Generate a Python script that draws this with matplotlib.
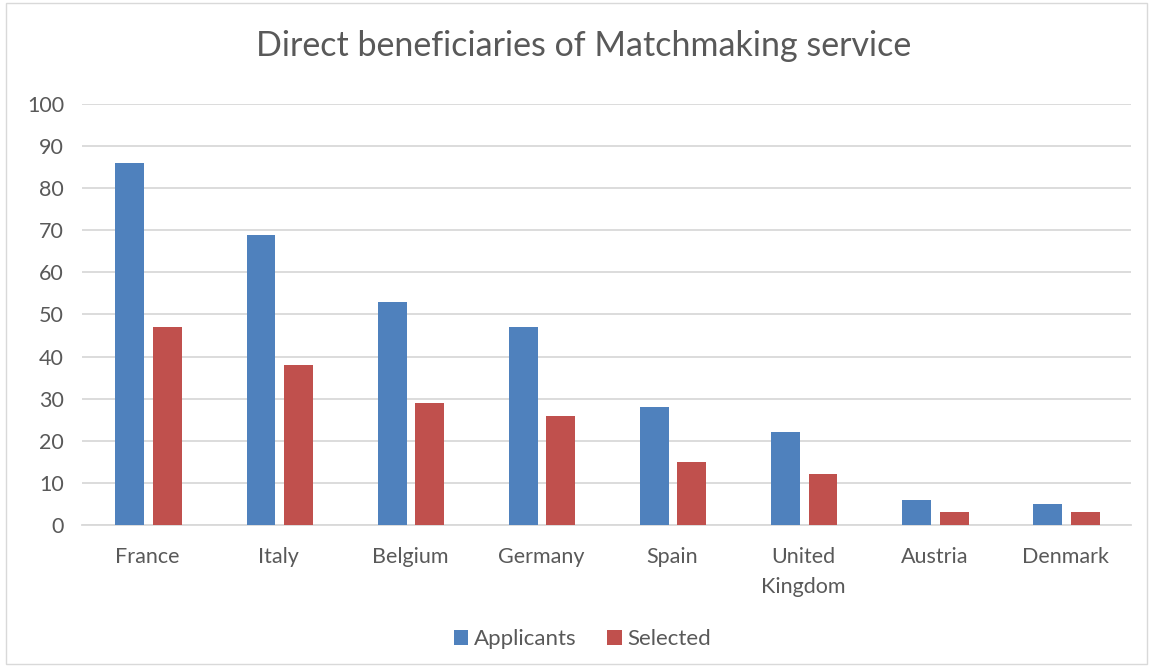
import matplotlib.pyplot as plt
import numpy as np
from matplotlib.patches import Rectangle

countries = ["France", "Italy", "Belgium", "Germany", "Spain",
             "United\nKingdom", "Austria", "Denmark"]
applicants = [86, 69, 53, 47, 28, 22, 6, 5]
selected = [47, 38, 29, 26, 15, 12, 3, 3]

plt.rcParams['font.family'] = ['Lato', 'DejaVu Sans']
txt = '#595959'

fig = plt.figure(figsize=(11.53, 6.67), dpi=100)
ax = fig.add_axes([0.0711, 0.213, 0.910, 0.631])

x = np.arange(len(countries))
w = 0.22
ax.bar(x - 0.135, applicants, w, color='#4F81BD', label='Applicants', zorder=3)
ax.bar(x + 0.15, selected, w, color='#C0504D', label='Selected', zorder=3)

ax.set_xlim(-0.5, len(countries) - 0.5)
ax.set_ylim(0, 100)
ax.set_yticks(range(0, 101, 10))
ax.grid(axis='y', color='#d9d9d9', linewidth=1.3, zorder=0)
for s in ['top', 'right', 'left']:
    ax.spines[s].set_visible(False)
ax.spines['bottom'].set_color('#d9d9d9')
ax.spines['bottom'].set_linewidth(1.3)
ax.tick_params(length=0, labelsize=15.5, labelcolor=txt)
ax.tick_params(axis='x', pad=16)
ax.tick_params(axis='y', pad=13)
ax.set_xticks(x)
ax.set_xticklabels(countries, linespacing=1.6)
for lbl in ax.get_yticklabels():
    lbl.set_horizontalalignment('right')

fig.suptitle('Direct beneficiaries of Matchmaking service', x=0.506, y=0.955,
             fontsize=24.5, color=txt)

leg = fig.legend(loc='center', bbox_to_anchor=(0.505, 0.042), ncol=2, frameon=False,
                 fontsize=16, handlelength=0.65, handleheight=0.65, handletextpad=0.25,
                 columnspacing=1.4, labelcolor=txt)

fig.patches.append(Rectangle((0.005, 0.005), 0.99, 0.99, transform=fig.transFigure,
                             fill=False, edgecolor='#d9d9d9', linewidth=1))

fig.savefig('out.png', dpi=100)
